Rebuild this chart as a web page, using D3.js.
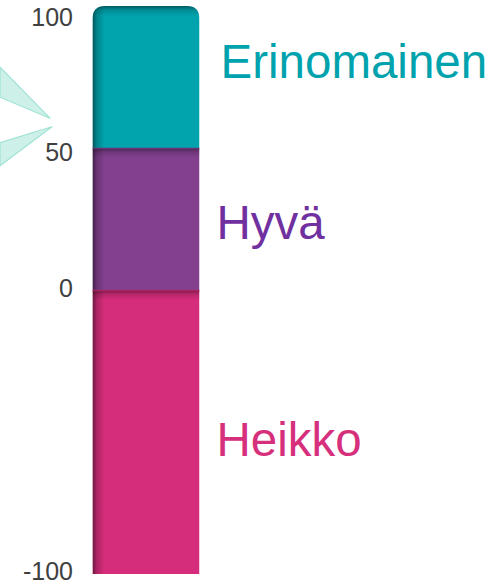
<!DOCTYPE html>
<html>
<head>
<meta charset="utf-8">
<script src="https://cdn.jsdelivr.net/npm/d3@7"></script>
<style>
html,body{margin:0;padding:0;background:#fff;}
svg{display:block;}
</style>
</head>
<body>
<svg id="chart" width="494" height="584"></svg>
<script>
// ---- data ----
const categories = ["Heikko", "Hyvä", "Erinomainen"];
const segStart = [-100, 0, 50];
const segEnd = [0, 50, 100];
const barColors = ["#d52d7b", "#82408f", "#01a3ad"];
const labelColors = ["#d6307c", "#7030a0", "#00a3ad"];
const labelBaselineValues = [-58.5, 18, 74.6];
const tickValues = [100, 50, 0, -100];
const tickLabels = ["100", "50", "0", "-100"];
const pointerTipValues = [60.5, 57.5];

const svg = d3.select("#chart");
const y = d3.scaleLinear().domain([-100, 100]).range([574, 6]);
const x0 = 92.5, x1 = 199.5, bw = x1 - x0, r = 13;

const defs = svg.append("defs");
// clip path: rounded top corners
const clipPath = d3.path();
clipPath.moveTo(x0, y(-100));
clipPath.lineTo(x0, y(100) + r);
clipPath.quadraticCurveTo(x0, y(100), x0 + r, y(100));
clipPath.lineTo(x1 - r, y(100));
clipPath.quadraticCurveTo(x1, y(100), x1, y(100) + r);
clipPath.lineTo(x1, y(-100));
clipPath.closePath();
defs.append("clipPath").attr("id", "barClip").append("path").attr("d", clipPath.toString());

const gl = defs.append("linearGradient").attr("id", "leftShade").attr("x1", 0).attr("x2", 1).attr("y1", 0).attr("y2", 0);
gl.append("stop").attr("offset", 0).attr("stop-color", "#000").attr("stop-opacity", 0.5);
gl.append("stop").attr("offset", 0.35).attr("stop-color", "#000").attr("stop-opacity", 0.2);
gl.append("stop").attr("offset", 1).attr("stop-color", "#000").attr("stop-opacity", 0);
const gt = defs.append("linearGradient").attr("id", "topShade").attr("x1", 0).attr("x2", 0).attr("y1", 0).attr("y2", 1);
gt.append("stop").attr("offset", 0).attr("stop-color", "#000").attr("stop-opacity", 0.45);
gt.append("stop").attr("offset", 0.4).attr("stop-color", "#000").attr("stop-opacity", 0.15);
gt.append("stop").attr("offset", 1).attr("stop-color", "#000").attr("stop-opacity", 0);

// callout pointer
const tipX = [50, 52];
const up = d3.path();
up.moveTo(0, y(pointerTipValues[0]) - 51);
up.lineTo(tipX[0], y(pointerTipValues[0]));
up.lineTo(0, y(pointerTipValues[0]) - 21);
up.closePath();
const lo = d3.path();
lo.moveTo(0, y(pointerTipValues[1]) + 16);
lo.lineTo(tipX[1], y(pointerTipValues[1]));
lo.lineTo(0, y(pointerTipValues[1]) + 39);
lo.closePath();
svg.append("g").selectAll("path").data([up, lo]).join("path")
  .attr("d", d => d.toString())
  .attr("fill", "#cdf0e8")
  .attr("stroke", "#9fe3d4")
  .attr("stroke-width", 1.2)
  .attr("stroke-linejoin", "round");

// bar
const bar = svg.append("g").attr("clip-path", "url(#barClip)");
const segs = categories.map((c, i) => ({c, s: segStart[i], e: segEnd[i], col: barColors[i]}));
bar.selectAll("rect.seg").data(segs).join("rect").attr("class", "seg")
  .attr("x", x0).attr("width", bw)
  .attr("y", d => y(d.e)).attr("height", d => y(d.s) - y(d.e))
  .attr("fill", d => d.col);
bar.selectAll("rect.top").data(segs).join("rect").attr("class", "top")
  .attr("x", x0).attr("width", bw)
  .attr("y", d => y(d.e)).attr("height", 10)
  .attr("fill", "url(#topShade)");
bar.append("rect").attr("x", x0).attr("width", 12).attr("y", y(100)).attr("height", y(-100) - y(100))
  .attr("fill", "url(#leftShade)");
bar.selectAll("line.sep").data(segs.filter(d => d.e < 100)).join("line").attr("class", "sep")
  .attr("x1", x0).attr("x2", x1).attr("y1", d => y(d.e) + 0.5).attr("y2", d => y(d.e) + 0.5)
  .attr("stroke", d => d3.color(d.col).darker(0.6)).attr("stroke-width", 1.5);

// tick labels
svg.append("g").selectAll("text").data(tickValues).join("text")
  .attr("x", 73)
  .attr("y", d => Math.min(571, Math.max(17, y(d) + (d === 50 ? 4 : d === 0 ? -2 : 0))))
  .attr("text-anchor", "end")
  .attr("dominant-baseline", "central")
  .attr("font-family", "Liberation Sans, Arial, sans-serif")
  .attr("font-size", 25)
  .attr("fill", "#404040")
  .text((d, i) => tickLabels[i]);

// category labels
svg.append("g").selectAll("text").data(categories).join("text")
  .attr("x", (d, i) => x1 + 17 + (i === 2 ? 4 : 0))
  .attr("y", (d, i) => y(labelBaselineValues[i]))
  .attr("font-family", "Liberation Sans, Arial, sans-serif")
  .attr("font-size", 47.5)
  .attr("fill", (d, i) => labelColors[i])
  .text(d => d);
</script>
</body>
</html>
